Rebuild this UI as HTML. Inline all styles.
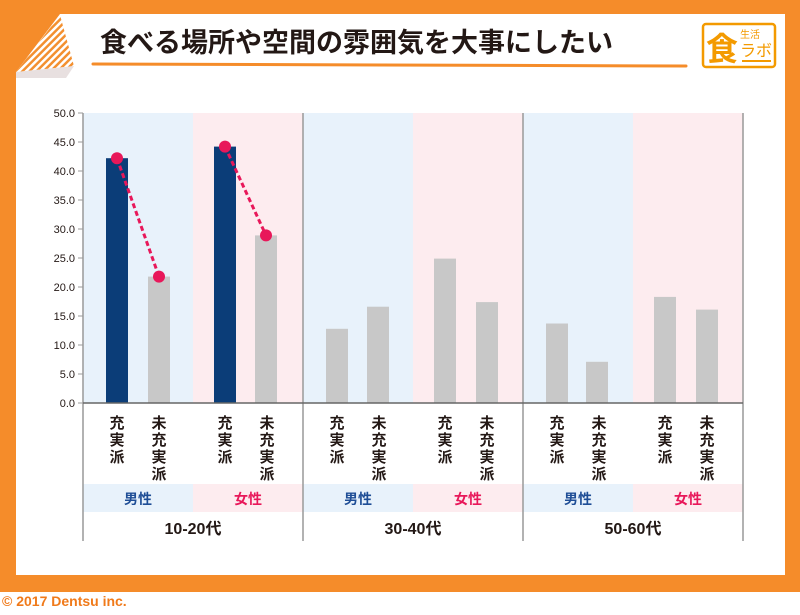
<!DOCTYPE html>
<html><head><meta charset="utf-8"><style>
body{margin:0;width:800px;height:610px;overflow:hidden;background:#fff;font-family:"Liberation Sans","Noto Sans CJK JP",sans-serif;}
</style></head><body>
<svg width="800" height="610" xmlns="http://www.w3.org/2000/svg" font-family="Liberation Sans, Noto Sans CJK JP, sans-serif">
<defs>
<pattern id="st" width="5" height="5" patternUnits="userSpaceOnUse" patternTransform="rotate(45)"><rect width="5" height="5" fill="#fff"/><rect width="2.5" height="5" fill="#f39030"/></pattern>
</defs>
<rect x="0" y="0" width="800" height="592" fill="#f58c2a"/>
<rect x="16" y="14" width="769" height="561" fill="#fff"/>
<polygon points="0,0 60,0 60,14 16,72 0,72" fill="#f58c2a"/>
<polygon points="60,15 16,72 74,66" fill="url(#st)"/>
<polygon points="16,72 74,66 66,78 16,78" fill="#d8cccc" opacity="0.6"/>
<text x="100" y="52" font-size="27" fill="#231815" font-weight="bold">食べる場所や空間の雰囲気を大事にしたい</text>
<line x1="93" y1="64" x2="686" y2="66" stroke="#f58c2a" stroke-width="3" stroke-linecap="round"/>
<rect x="703" y="24" width="72" height="43" rx="3" fill="none" stroke="#f39a00" stroke-width="2.5"/>
<text x="706" y="60" font-size="32" fill="#f39a00" font-weight="bold">食</text>
<text x="740" y="38" font-size="10" fill="#f39a00">生活</text>
<text x="740" y="56" font-size="16" fill="#f39a00">ラボ</text>
<line x1="742" y1="61" x2="771" y2="61" stroke="#f39a00" stroke-width="2"/>
<g>
<rect x="83" y="113" width="110" height="290" fill="#e8f2fb"/>
<rect x="193" y="113" width="110" height="290" fill="#fdecef"/>
<rect x="303" y="113" width="110" height="290" fill="#e8f2fb"/>
<rect x="413" y="113" width="110" height="290" fill="#fdecef"/>
<rect x="523" y="113" width="110" height="290" fill="#e8f2fb"/>
<rect x="633" y="113" width="110" height="290" fill="#fdecef"/>
<rect x="83" y="484" width="110" height="28" fill="#e8f2fb"/>
<rect x="193" y="484" width="110" height="28" fill="#fdecef"/>
<rect x="303" y="484" width="110" height="28" fill="#e8f2fb"/>
<rect x="413" y="484" width="110" height="28" fill="#fdecef"/>
<rect x="523" y="484" width="110" height="28" fill="#e8f2fb"/>
<rect x="633" y="484" width="110" height="28" fill="#fdecef"/>
</g>
<g fill="#0b3d78">
<rect x="106" y="158.2" width="22" height="244.8"/>
<rect x="214" y="146.6" width="22" height="256.4"/>
</g>
<g fill="#c8c8c8">
<rect x="148" y="276.6" width="22" height="126.4"/>
<rect x="255" y="235.4" width="22" height="167.6"/>
<rect x="326" y="328.8" width="22" height="74.2"/>
<rect x="367" y="306.7" width="22" height="96.3"/>
<rect x="434" y="258.6" width="22" height="144.4"/>
<rect x="476" y="302.1" width="22" height="100.9"/>
<rect x="546" y="323.5" width="22" height="79.5"/>
<rect x="586" y="361.8" width="22" height="41.2"/>
<rect x="654" y="296.9" width="22" height="106.1"/>
<rect x="696" y="309.6" width="22" height="93.4"/>
</g>
<g stroke="#999" stroke-width="1.5">
<line x1="83" y1="113" x2="83" y2="541"/>
<line x1="303" y1="113" x2="303" y2="541"/>
<line x1="523" y1="113" x2="523" y2="541"/>
<line x1="743" y1="113" x2="743" y2="541"/>
<line x1="83" y1="403" x2="743" y2="403" stroke="#666"/>
</g>
<g stroke="#999" stroke-width="1">
<line x1="78" y1="113" x2="83" y2="113"/><line x1="78" y1="142" x2="83" y2="142"/><line x1="78" y1="171" x2="83" y2="171"/><line x1="78" y1="200" x2="83" y2="200"/><line x1="78" y1="229" x2="83" y2="229"/><line x1="78" y1="258" x2="83" y2="258"/><line x1="78" y1="287" x2="83" y2="287"/><line x1="78" y1="316" x2="83" y2="316"/><line x1="78" y1="345" x2="83" y2="345"/><line x1="78" y1="374" x2="83" y2="374"/><line x1="78" y1="403" x2="83" y2="403"/>
</g>
<g font-size="11" fill="#231815" text-anchor="end">
<text x="75" y="117">50.0</text><text x="75" y="146">45.0</text><text x="75" y="175">40.0</text><text x="75" y="204">35.0</text><text x="75" y="233">30.0</text><text x="75" y="262">25.0</text><text x="75" y="291">20.0</text><text x="75" y="320">15.0</text><text x="75" y="349">10.0</text><text x="75" y="378">5.0</text><text x="75" y="407">0.0</text>
</g>
<g stroke="#e8185a" stroke-width="3" stroke-dasharray="5,3">
<line x1="117" y1="158.2" x2="159" y2="276.6"/>
<line x1="225" y1="146.6" x2="266" y2="235.4"/>
</g>
<g fill="#e8185a">
<circle cx="117" cy="158.2" r="6"/><circle cx="159" cy="276.6" r="6"/>
<circle cx="225" cy="146.6" r="6"/><circle cx="266" cy="235.4" r="6"/>
</g>
<g font-size="15" font-weight="bold" fill="#231815" text-anchor="middle">
<g id="a"><text x="117" y="428">充</text><text x="117" y="445">実</text><text x="117" y="462">派</text>
<text x="159" y="428">未</text><text x="159" y="445">充</text><text x="159" y="462">実</text><text x="159" y="479">派</text></g>
<use href="#a" x="108"/><use href="#a" x="220"/><use href="#a" x="328"/><use href="#a" x="440"/><use href="#a" x="548"/>
</g>
<g font-size="14" font-weight="bold" text-anchor="middle">
<text x="138" y="504" fill="#1f4e96">男性</text><text x="248" y="504" fill="#e8185a">女性</text>
<text x="358" y="504" fill="#1f4e96">男性</text><text x="468" y="504" fill="#e8185a">女性</text>
<text x="578" y="504" fill="#1f4e96">男性</text><text x="688" y="504" fill="#e8185a">女性</text>
</g>
<g font-size="16" fill="#231815" text-anchor="middle" font-weight="bold">
<text x="193" y="534">10-20代</text><text x="413" y="534">30-40代</text><text x="633" y="534">50-60代</text>
</g>
<text x="2" y="606" font-size="14" font-weight="bold" fill="#f07a1a">© 2017 Dentsu inc.</text>
</svg>
</body></html>
